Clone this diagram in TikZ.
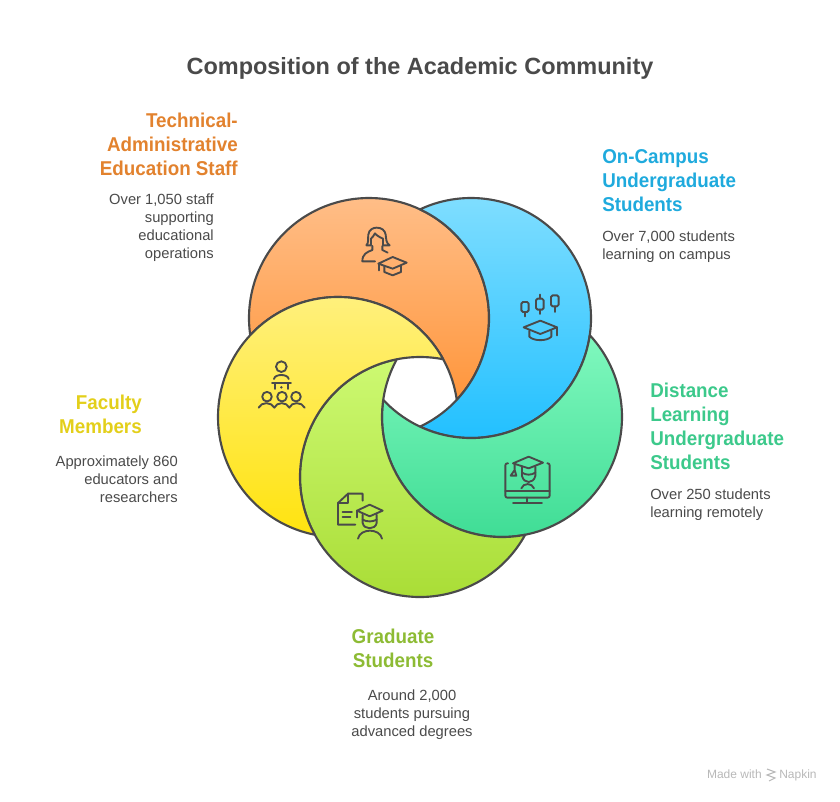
\documentclass[tikz,border=0pt]{standalone}
\usepackage{fontspec}
\setmainfont{Liberation Sans}
\newfontfamily\headfont[FakeStretch=0.94]{Liberation Sans}
\definecolor{inkgray}{HTML}{4A4A4A}
\definecolor{orangetop}{HTML}{FFC08C}
\definecolor{orangebot}{HTML}{FF963C}
\definecolor{bluetop}{HTML}{80DEFF}
\definecolor{bluebot}{HTML}{1CBEFF}
\definecolor{tealtop}{HTML}{80F8BE}
\definecolor{tealbot}{HTML}{3DDC94}
\definecolor{limetop}{HTML}{CDF972}
\definecolor{limebot}{HTML}{A8DC34}
\definecolor{yellowtop}{HTML}{FFF184}
\definecolor{yellowbot}{HTML}{FFE30F}
\definecolor{orangetext}{HTML}{E2822E}
\definecolor{bluetext}{HTML}{1FAADD}
\definecolor{tealtext}{HTML}{3CC98B}
\definecolor{limetext}{HTML}{8DBB34}
\definecolor{yellowtext}{HTML}{E3CF1A}
\tikzset{
  crescent/.style = {draw=inkgray, line width=1.6pt, line join=round},
  iconline/.style = {draw=inkgray, line width=1.4pt, line join=round, line cap=round},
  zoomgrid/.style = {x=0.25pt, y=-0.25pt},
  titlenode/.style = {inner sep=0pt, text=inkgray, font=\fontsize{17.6}{22}\selectfont\bfseries},
  headnode/.style = {inner sep=0pt, font=\headfont\fontsize{15}{18}\selectfont\bfseries},
  bodynode/.style = {inner sep=0pt, text=inkgray, font=\fontsize{11.05}{13.5}\selectfont},
  marknode/.style = {inner sep=0pt, text=black!28, font=\fontsize{9}{10}\selectfont},
}
% own centre, next centre, top colour, bottom colour
\newcommand{\crescentfrom}[6]{
  \pgfmathsetmacro{\angnext}{atan2(-(#4-#2),#3-#1)}
  \pgfmathsetmacro{\angbite}{acos(veclen(#3-#1,#4-#2)/240)}
  \path[crescent, top color=#5, bottom color=#6] (#1,#2) ++(\angnext+\angbite:90pt)
    arc[start angle=\angnext+\angbite, end angle=\angnext-\angbite+360, radius=90pt]
    arc[start angle=\angnext+180+\angbite, end angle=\angnext+180-\angbite, radius=90pt]
    -- cycle;
}
\begin{document}
\begin{tikzpicture}[x=0.75pt, y=-0.75pt]
  \useasboundingbox (0,0) rectangle (840,802);
  \crescentfrom{369}{318}{338}{417}{orangetop}{orangebot}
  \crescentfrom{471}{318}{369}{318}{bluetop}{bluebot}
  \crescentfrom{502}{417}{471}{318}{tealtop}{tealbot}
  \crescentfrom{420}{477}{502}{417}{limetop}{limebot}
  \crescentfrom{338}{417}{420}{477}{yellowtop}{yellowbot}

  % staff icon
  \begin{scope}[shift={(355,222)}, zoomgrid]
    \path[iconline] (34,70) .. controls (42,62) and (38,50) .. (40,38)
      .. controls (42,22) and (55,17) .. (65,17) .. controls (80,17) and (90,25) .. (92,38)
      .. controls (94,50) and (92,62) .. (104,70) -- (84,70) -- (84,50)
      .. controls (72,45) and (62,38) .. (60,34) .. controls (56,42) and (52,46) .. (48,50)
      -- (48,70) -- cycle;
    \path[iconline] (52,72) -- (52,84) .. controls (36,90) and (22,96) .. (22,118) -- (60,118);
    \path[iconline] (82,72) -- (82,84) -- (98,92);
    \path[iconline] (70,125) -- (113,105) -- (155,122) -- (113,140) -- cycle;
    \path[iconline] (88,133) -- (88,150) -- (113,160) -- (138,150) -- (138,133);
    \path[iconline] (72,125) -- (72,145);
  \end{scope}
  % candle icon
  \begin{scope}[shift={(512,288)}, zoomgrid]
    \path[iconline, rounded corners=1.2pt] (28,42) rectangle (50,72);
    \path[iconline] (38,72) -- (38,85);
    \path[iconline, rounded corners=1.2pt] (72,32) rectangle (95,65);
    \path[iconline] (83,20) -- (83,32) (83,65) -- (83,78);
    \path[iconline, rounded corners=1.2pt] (117,22) rectangle (140,55);
    \path[iconline] (128,55) -- (128,72);
    \path[iconline] (35,118) -- (85,98) -- (135,118) -- (85,138) -- cycle;
    \path[iconline] (52,128) -- (52,146) .. controls (65,160) and (105,160) .. (118,146) -- (118,128);
    \path[iconline] (135,118) -- (135,142);
  \end{scope}
  % teacher icon
  \begin{scope}[shift={(252,355)}, zoomgrid]
    \path[iconline] (88,35) circle[radius=4pt];
    \path[iconline] (66,72) .. controls (68,56) and (108,56) .. (110,72);
    \path[iconline] (60,84) -- (117,84) (68,84) -- (68,102) (108,84) -- (108,102);
    \path[fill=inkgray] (88,97) circle[radius=1pt];
    \path[iconline] (45,125) circle[radius=3.6pt] (90,125) circle[radius=3.6pt] (132,125) circle[radius=3.6pt];
    \path[iconline] (20,158) .. controls (28,140) and (58,140) .. (67,158)
      .. controls (74,140) and (104,140) .. (112,158)
      .. controls (118,140) and (150,140) .. (158,158);
  \end{scope}
  % monitor icon
  \begin{scope}[shift={(498,450)}, zoomgrid]
    \path[iconline, rounded corners=1.5pt] (30,40) -- (22,40) -- (22,143) -- (155,143) -- (155,40) -- (148,40);
    \path[iconline] (22,122) -- (155,122);
    \path[iconline] (88,143) -- (88,158) (45,158) -- (132,158);
    \path[iconline] (45,40) -- (92,20) -- (135,38) -- (92,55) -- cycle;
    \path[iconline] (50,42) -- (50,62) (38,77) -- (50,60) -- (55,77) -- cycle;
    \path[iconline] (72,50) -- (72,78) .. controls (78,102) and (106,102) .. (112,78) -- (112,50);
    \path[iconline] (72,68) .. controls (85,76) and (99,76) .. (112,68);
    \path[iconline] (70,115) .. controls (76,98) and (102,98) .. (108,115);
  \end{scope}
  % graduate icon
  \begin{scope}[shift={(332,488)}, zoomgrid]
    \path[iconline] (92,38) -- (92,17) -- (48,17) -- (18,45) -- (18,110) -- (70,110);
    \path[iconline] (48,17) -- (48,45) -- (18,45);
    \path[iconline] (32,72) -- (60,72) (32,88) -- (55,88);
    \path[iconline] (75,68) -- (113,50) -- (152,68) -- (113,85) -- cycle;
    \path[iconline] (75,68) -- (75,88);
    \path[iconline] (92,80) -- (92,105) .. controls (96,126) and (130,126) .. (134,105) -- (134,80);
    \path[iconline] (92,95) .. controls (105,102) and (121,102) .. (134,95);
    \path[iconline] (78,152) .. controls (84,120) and (144,120) .. (150,152);
  \end{scope}

  \node[titlenode] (title) at (420,68) {Composition of the Academic Community};

  \node[headnode, text=orangetext, anchor=north east, align=right] (stafftitle) at (238,113)
    {Technical-\\Administrative\\Education Staff};
  \node[bodynode, anchor=north east, align=right] (staffbody) at (214,194)
    {Over 1,050 staff\\supporting\\educational\\operations};

  \node[headnode, text=bluetext, anchor=north west, align=left] (campustitle) at (602,149)
    {On-Campus\\Undergraduate\\Students};
  \node[bodynode, anchor=north west, align=left] (campusbody) at (602,231)
    {Over 7,000 students\\learning on campus};

  \node[headnode, text=tealtext, anchor=north west, align=left] (distancetitle) at (650,383)
    {Distance\\Learning\\Undergraduate\\Students};
  \node[bodynode, anchor=north west, align=left] (distancebody) at (650,489)
    {Over 250 students\\learning remotely};

  \node[headnode, text=yellowtext, anchor=north east, align=right] (facultytitle) at (142,395)
    {Faculty\\Members};
  \node[bodynode, anchor=north east, align=right] (facultybody) at (178,456)
    {Approximately 860\\educators and\\researchers};

  \node[headnode, text=limetext, anchor=north, align=center] (gradtitle) at (393,629)
    {Graduate\\Students};
  \node[bodynode, anchor=north, align=center] (gradbody) at (412,690)
    {Around 2,000\\students pursuing\\advanced degrees};

  \node[marknode, anchor=base east] (madewith) at (762,778) {Made with};
  \node[marknode, anchor=base west] (napkin) at (779,778) {Napkin};
  \path[draw=black!28, line width=0.8pt] (767,769) -- (775,772) -- (767,775) -- (775,778) -- (769,781);
\end{tikzpicture}
\end{document}
